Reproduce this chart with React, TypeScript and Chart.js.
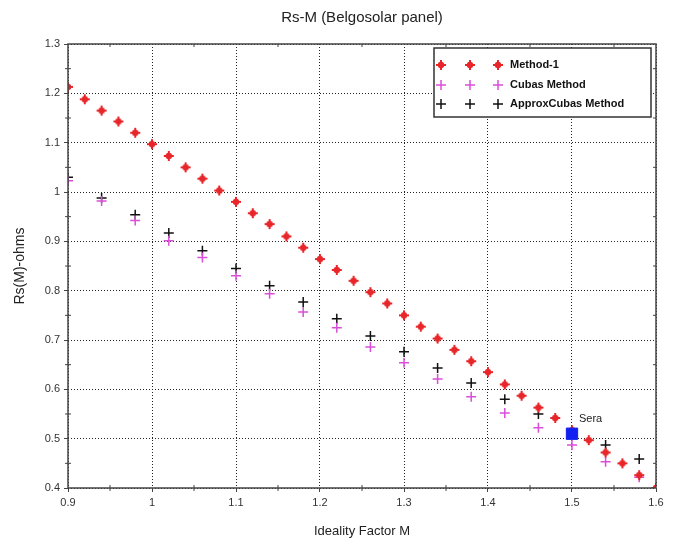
import React, { useEffect, useRef } from "react";
import { Chart, registerables } from "chart.js";

Chart.register(...registerables);

const titleText = "Rs-M (Belgosolar panel)";
const xTitle = "Ideality Factor M";
const yTitle = "Rs(M)-ohms";

const m1X = [0.9, 0.92, 0.94, 0.96, 0.98, 1.0, 1.02, 1.04, 1.06, 1.08, 1.1, 1.12, 1.14, 1.16, 1.18, 1.2, 1.22, 1.24, 1.26, 1.28, 1.3, 1.32, 1.34, 1.36, 1.38, 1.4, 1.42, 1.44, 1.46, 1.48, 1.5, 1.52, 1.54, 1.56, 1.58, 1.6];
const method1 = [1.213, 1.188, 1.165, 1.143, 1.12, 1.097, 1.073, 1.05, 1.027, 1.003, 0.98, 0.957, 0.935, 0.91, 0.887, 0.864, 0.842, 0.82, 0.797, 0.774, 0.75, 0.727, 0.703, 0.68, 0.657, 0.635, 0.61, 0.587, 0.563, 0.542, 0.517, 0.497, 0.472, 0.45, 0.426, 0.4];

const cubasX = [0.9, 0.94, 0.98, 1.02, 1.06, 1.1, 1.14, 1.18, 1.22, 1.26, 1.3, 1.34, 1.38, 1.42, 1.46, 1.5, 1.54, 1.58];
const cubas = [1.023, 0.982, 0.942, 0.901, 0.867, 0.83, 0.794, 0.757, 0.725, 0.686, 0.654, 0.621, 0.585, 0.552, 0.522, 0.487, 0.453, 0.422];
const approxCubas = [1.03, 0.988, 0.954, 0.917, 0.881, 0.845, 0.81, 0.777, 0.743, 0.708, 0.676, 0.643, 0.613, 0.58, 0.55, 0.515, 0.487, 0.459];

const seraX = [1.5];
const seraY = [0.51];
const seraLabel = "Sera";

const xTickValues = [0.9, 1.0, 1.1, 1.2, 1.3, 1.4, 1.5, 1.6];
const xTickLabels = ["0.9", "1", "1.1", "1.2", "1.3", "1.4", "1.5", "1.6"];
const yTickValues = [0.4, 0.5, 0.6, 0.7, 0.8, 0.9, 1.0, 1.1, 1.2, 1.3];
const yTickLabels = ["0.4", "0.5", "0.6", "0.7", "0.8", "0.9", "1", "1.1", "1.2", "1.3"];

const legendNames = ["Method-1", "Cubas Method", "ApproxCubas Method"];

const RED = "#e8262a";
const MAGENTA = "#d94fd9";
const BLACK = "#111111";
const BLUE = "#1020f0";

function labelFor(values: number[], labels: string[], v: number) {
  const i = values.findIndex((t) => Math.abs(t - v) < 1e-6);
  return i >= 0 ? labels[i] : "";
}

function drawStar(ctx: CanvasRenderingContext2D, x: number, y: number, color: string) {
  ctx.save();
  ctx.fillStyle = color;
  ctx.beginPath();
  ctx.arc(x, y, 3.2, 0, Math.PI * 2);
  ctx.fill();
  ctx.strokeStyle = color;
  ctx.lineWidth = 2;
  ctx.beginPath();
  ctx.moveTo(x - 5, y); ctx.lineTo(x + 5, y);
  ctx.moveTo(x, y - 5); ctx.lineTo(x, y + 5);
  ctx.stroke();
  ctx.restore();
}

function drawPlus(ctx: CanvasRenderingContext2D, x: number, y: number, color: string) {
  ctx.save();
  ctx.strokeStyle = color;
  ctx.lineWidth = 1.5;
  ctx.beginPath();
  ctx.moveTo(x - 5, y); ctx.lineTo(x + 5, y);
  ctx.moveTo(x, y - 5); ctx.lineTo(x, y + 5);
  ctx.stroke();
  ctx.restore();
}

const decorPlugin = {
  id: "decor",
  afterDatasetsDraw(chart: any) {
    const { ctx, chartArea: a, scales } = chart;
    const xs = scales.x;
    const ys = scales.y;
    ctx.save();
    ctx.strokeStyle = "#444";
    ctx.lineWidth = 1.5;
    ctx.strokeRect(a.left, a.top, a.right - a.left, a.bottom - a.top);
    ctx.lineWidth = 1;
    ctx.strokeStyle = "#444";
    ctx.beginPath();
    for (let i = 0; i < xTickValues.length - 1; i++) {
      const px = xs.getPixelForValue((xTickValues[i] + xTickValues[i + 1]) / 2);
      ctx.moveTo(px, a.bottom - 3); ctx.lineTo(px, a.bottom + 3);
      ctx.moveTo(px, a.top); ctx.lineTo(px, a.top + 3);
    }
    for (let i = 0; i < yTickValues.length - 1; i++) {
      const py = ys.getPixelForValue((yTickValues[i] + yTickValues[i + 1]) / 2);
      ctx.moveTo(a.left - 3, py); ctx.lineTo(a.left + 3, py);
      ctx.moveTo(a.right, py); ctx.lineTo(a.right - 3, py);
    }
    ctx.stroke();

    const sx = xs.getPixelForValue(seraX[0]);
    const sy = ys.getPixelForValue(seraY[0]);
    ctx.fillStyle = "#222";
    ctx.font = "11px 'Liberation Sans', Arial, sans-serif";
    ctx.textBaseline = "middle";
    ctx.textAlign = "left";
    ctx.fillText(seraLabel, sx + 7, sy - 15);

    const lx = 434, ly = 48, lw = 217, lh = 69;
    ctx.fillStyle = "#fff";
    ctx.fillRect(lx, ly, lw, lh);
    ctx.strokeStyle = "#333";
    ctx.lineWidth = 1.5;
    ctx.strokeRect(lx, ly, lw, lh);
    const rows = [ly + 17, ly + 37, ly + 56];
    const mx = [lx + 7, lx + 36, lx + 64];
    ctx.font = "bold 11px 'Liberation Sans', Arial, sans-serif";
    rows.forEach((ry, i) => {
      mx.forEach((px) => {
        if (i === 0) drawStar(ctx, px, ry, RED);
        else drawPlus(ctx, px, ry, i === 1 ? MAGENTA : BLACK);
      });
      ctx.fillStyle = "#111";
      ctx.fillText(legendNames[i], lx + 76, ry);
    });

    ctx.fillStyle = "#222";
    ctx.font = "15px 'Liberation Sans', Arial, sans-serif";
    ctx.textAlign = "center";
    ctx.fillText(titleText, (a.left + a.right) / 2, 18);
    ctx.restore();
  },
};

const starPoint = (() => {
  const c = document.createElement("canvas");
  c.width = 12; c.height = 12;
  const g = c.getContext("2d")!;
  drawStar(g, 6, 6, RED);
  return c;
})();

export default function App() {
  const ref = useRef<HTMLCanvasElement | null>(null);
  useEffect(() => {
    if (!ref.current) return;
    const chart = new Chart(ref.current, {
      type: "scatter",
      data: {
        datasets: [
          {
            label: "Sera",
            data: seraX.map((x, i) => ({ x, y: seraY[i] })),
            pointStyle: "rect",
            pointRadius: 8,
            backgroundColor: BLUE,
            borderColor: BLUE,
            borderWidth: 1,
            order: 0,
          },
          {
            label: legendNames[0],
            data: m1X.map((x, i) => ({ x, y: method1[i] })),
            pointStyle: starPoint as any,
            pointRadius: 5,
            order: 1,
          },
          {
            label: legendNames[1],
            data: cubasX.map((x, i) => ({ x, y: cubas[i] })),
            pointStyle: "cross",
            pointRadius: 5,
            borderColor: MAGENTA,
            borderWidth: 1.5,
            order: 2,
          },
          {
            label: legendNames[2],
            data: cubasX.map((x, i) => ({ x, y: approxCubas[i] })),
            pointStyle: "cross",
            pointRadius: 5,
            borderColor: BLACK,
            borderWidth: 1.5,
            order: 3,
          },
        ],
      },
      options: {
        animation: false,
        responsive: false,
        layout: { padding: { top: 44, right: 22, left: 0, bottom: 0 } },
        plugins: { legend: { display: false }, tooltip: { enabled: false }, title: { display: false } },
        scales: {
          x: {
            type: "linear",
            min: 0.9,
            max: 1.6,
            afterBuildTicks: (s: any) => { s.ticks = xTickValues.map((v) => ({ value: v })); },
            afterFit: (s: any) => { s.height = 57; },
            ticks: {
              callback: (v: any) => labelFor(xTickValues, xTickLabels, Number(v)),
              color: "#333",
              font: { size: 11, family: "'Liberation Sans', Arial, sans-serif" },
              padding: 4,
              maxRotation: 0,
            },
            grid: { color: "#222", lineWidth: 1, tickLength: 4, tickColor: "#444", drawTicks: true },
            border: { display: false, dash: [1, 2] },
            title: {
              display: true,
              text: xTitle,
              color: "#222",
              font: { size: 13, family: "'Liberation Sans', Arial, sans-serif" },
              padding: { top: 0, bottom: 6 },
            },
          },
          y: {
            type: "linear",
            min: 0.4,
            max: 1.3,
            afterBuildTicks: (s: any) => { s.ticks = yTickValues.map((v) => ({ value: v })); },
            afterFit: (s: any) => { s.width = 68; },
            ticks: {
              callback: (v: any) => labelFor(yTickValues, yTickLabels, Number(v)),
              color: "#333",
              font: { size: 11, family: "'Liberation Sans', Arial, sans-serif" },
              padding: 4,
            },
            grid: { color: "#222", lineWidth: 1, tickLength: 4, tickColor: "#444", drawTicks: true },
            border: { display: false, dash: [1, 2] },
            title: {
              display: true,
              text: yTitle,
              color: "#222",
              font: { size: 14, family: "'Liberation Sans', Arial, sans-serif" },
              padding: { top: 12, bottom: 0 },
            },
          },
        },
      },
      plugins: [decorPlugin],
    });
    return () => chart.destroy();
  }, []);
  return (
    <div style={{ position: "absolute", left: 0, top: 0, width: 678, height: 545, background: "#fff" }}>
      <canvas ref={ref} width={678} height={545} />
    </div>
  );
}
